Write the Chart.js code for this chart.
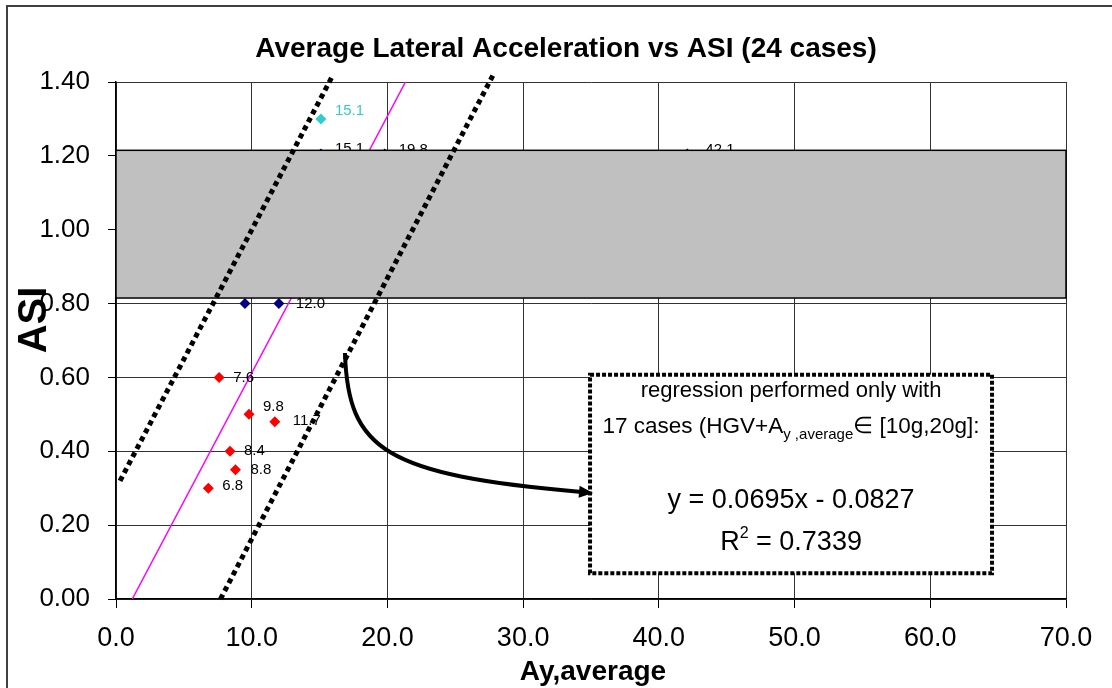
<!DOCTYPE html>
<html><head><meta charset="utf-8">
<script src="https://cdn.jsdelivr.net/npm/chart.js@4.4.0/dist/chart.umd.min.js"></script>
<style>html,body{margin:0;padding:0;background:#fff;}canvas{display:block;}</style>
</head><body>
<canvas id="c" width="1112" height="688"></canvas>
<script>
// ---------------- data ----------------
const redX = [7.6, 9.8, 11.7, 8.4, 8.8, 6.8];
const redY = [0.60, 0.50, 0.48, 0.40, 0.35, 0.30];
const redLabels = ['7.6', '9.8', '11.7', '8.4', '8.8', '6.8'];

const blueX = [9.5, 12.0, 15.1, 19.8, 42.1];
const blueY = [0.80, 0.80, 1.205, 1.205, 1.205];
const blueLabels = ['', '12.0', '15.1', '19.8', '42.1'];

const cyanX = [15.1];
const cyanY = [1.30];
const cyanLabels = ['15.1'];

// regression line y = 0.0695x - 0.0827 (end points)
const regX = [1.2, 21.33];
const regY = [0.0, 1.40];

// dotted band lines
const leftBandX = [0.3, 16.0];
const leftBandY = [0.32, 1.42];
const rightBandX = [7.7, 27.8];
const rightBandY = [0.0, 1.42];

// gray ASI zone
const zoneY = [0.815, 1.215];

// axis ticks
const xTickValues = [0, 10, 20, 30, 40, 50, 60, 70];
const yTickValues = [0, 0.2, 0.4, 0.6, 0.8, 1.0, 1.2, 1.4];

// texts
const chartTitle = 'Average Lateral Acceleration vs ASI (24 cases)';
const xTitle = 'Ay,average';
const yTitle = 'ASI';
const noteLine1 = 'regression performed only with';
const noteEquation = 'y = 0.0695x - 0.0827';
const noteR2 = ' = 0.7339';

// ---------------- annotation geometry (data units) ----------------
const noteBox = {x1: 34.93, y1: 0.607, x2: 64.55, y2: 0.070};
const arrowPts = [[16.87, 0.666], [17.10, 0.403], [19.82, 0.336], [35.15, 0.287]];
const labelNudge = {red: [[0,0],[0,-7],[4,-1],[0,0],[1,0],[0,-2]], blue: [[0,0],[3,0],[0,-5],[0,-4],[4,-4]], cyan: [[0,-8]]};

const FONT = '"Liberation Sans", Arial, Helvetica, sans-serif';
Chart.defaults.font.family = FONT;

const toPts = (xs, ys) => xs.map((x, i) => ({x: x, y: ys[i]}));

const deco = {
  id: 'deco',
  beforeDraw(chart) {
    const ctx = chart.ctx;
    ctx.save();
    ctx.fillStyle = '#fff';
    ctx.fillRect(0, 0, chart.width, chart.height);
    ctx.strokeStyle = '#404040';
    ctx.lineWidth = 2;
    ctx.strokeRect(7, 6, chart.width + 20, chart.height + 20);
    ctx.restore();
  },
  beforeDatasetsDraw(chart) { chart.$zoneDone = false; },
  beforeDatasetDraw(chart, args) {
    const ds = chart.data.datasets[args.index];
    if (ds.isBand && !chart.$zoneDone) {
      chart.$zoneDone = true;
      const {ctx, scales: {x, y}} = chart;
      const l = x.getPixelForValue(x.min), r = x.getPixelForValue(x.max);
      const t = y.getPixelForValue(zoneY[1]), b = y.getPixelForValue(zoneY[0]);
      ctx.save();
      ctx.fillStyle = '#c0c0c0';
      ctx.fillRect(l, t, r - l, b - t);
      ctx.strokeStyle = '#000';
      ctx.lineWidth = 1.5;
      ctx.strokeRect(l, t, r - l, b - t);
      ctx.restore();
    }
  },
  afterDatasetDraw(chart, args) {
    const ds = chart.data.datasets[args.index];
    if (!ds.ptLabels) return;
    const ctx = chart.ctx;
    const meta = chart.getDatasetMeta(args.index);
    ctx.save();
    ctx.font = '15px ' + FONT;
    ctx.fillStyle = ds.labelColor;
    ctx.textAlign = 'left';
    ctx.textBaseline = 'middle';
    meta.data.forEach((el, i) => {
      const txt = ds.ptLabels[i];
      if (!txt) return;
      const n = ds.nudge[i] || [0, 0];
      ctx.fillText(txt, el.x + 14 + n[0], el.y + n[1]);
    });
    ctx.restore();
  },
  afterDatasetsDraw(chart) {
    const {ctx, scales: {x, y}} = chart;
    // note box
    const bx1 = x.getPixelForValue(noteBox.x1), by1 = y.getPixelForValue(noteBox.y1);
    const bx2 = x.getPixelForValue(noteBox.x2), by2 = y.getPixelForValue(noteBox.y2);
    ctx.save();
    ctx.fillStyle = '#fff';
    ctx.fillRect(bx1, by1, bx2 - bx1, by2 - by1);
    ctx.strokeStyle = '#000';
    ctx.lineWidth = 4;
    ctx.setLineDash([4, 2]);
    ctx.strokeRect(bx1, by1, bx2 - bx1, by2 - by1);
    ctx.setLineDash([]);
    const cx = (bx1 + bx2) / 2;
    ctx.fillStyle = '#000';
    ctx.textBaseline = 'alphabetic';
    ctx.textAlign = 'center';
    ctx.font = '22px ' + FONT;
    ctx.fillText(noteLine1, cx, by1 + 22);
    // line 2 with subscript
    const segs = [
      {t: '17 cases (HGV+A', f: '22.5px ' + FONT, dy: 0},
      {t: 'y ,average', f: '15px ' + FONT, dy: 6},
      {t: '\u2208', f: '22.5px ' + FONT, dy: 0},
      {t: ' [10g,20g]:', f: '22.5px ' + FONT, dy: 0}
    ];
    let tot = 0;
    segs.forEach(s => { ctx.font = s.f; s.w = ctx.measureText(s.t).width; tot += s.w; });
    let sx = cx - tot / 2;
    ctx.textAlign = 'left';
    const l2 = by1 + 58;
    segs.forEach(s => { ctx.font = s.f; ctx.fillText(s.t, sx, l2 + s.dy); sx += s.w; });
    // equation
    ctx.textAlign = 'center';
    ctx.font = '27px ' + FONT;
    ctx.fillText(noteEquation, cx, by1 + 133);
    // R^2
    ctx.font = '27px ' + FONT;
    const wR = ctx.measureText('R').width, wRest = ctx.measureText(noteR2).width;
    ctx.font = '16px ' + FONT;
    const w2 = ctx.measureText('2').width;
    let rx = cx - (wR + w2 + wRest) / 2;
    const l4 = by1 + 175;
    ctx.textAlign = 'left';
    ctx.font = '27px ' + FONT;
    ctx.fillText('R', rx, l4); rx += wR;
    ctx.font = '16px ' + FONT;
    ctx.fillText('2', rx, l4 - 12); rx += w2;
    ctx.font = '27px ' + FONT;
    ctx.fillText(noteR2, rx, l4);
    // arrow
    const p = arrowPts.map(a => [x.getPixelForValue(a[0]), y.getPixelForValue(a[1])]);
    const ang = Math.atan2(p[3][1] - p[2][1], p[3][0] - p[2][0]);
    const hl = 14, hw = 6;
    const ex = p[3][0] - hl * Math.cos(ang) * 0.8, ey = p[3][1] - hl * Math.sin(ang) * 0.8;
    ctx.strokeStyle = '#000';
    ctx.lineWidth = 4;
    ctx.beginPath();
    ctx.moveTo(p[0][0], p[0][1]);
    ctx.bezierCurveTo(p[1][0], p[1][1], p[2][0], p[2][1], ex, ey);
    ctx.stroke();
    ctx.beginPath();
    ctx.moveTo(p[3][0], p[3][1]);
    ctx.lineTo(p[3][0] - hl * Math.cos(ang) + hw * Math.sin(ang), p[3][1] - hl * Math.sin(ang) - hw * Math.cos(ang));
    ctx.lineTo(p[3][0] - hl * Math.cos(ang) - hw * Math.sin(ang), p[3][1] - hl * Math.sin(ang) + hw * Math.cos(ang));
    ctx.closePath();
    ctx.fillStyle = '#000';
    ctx.fill();
    ctx.restore();
  },
  afterDraw(chart) {
    const ctx = chart.ctx;
    ctx.save();
    ctx.fillStyle = '#000';
    ctx.textAlign = 'center';
    ctx.textBaseline = 'alphabetic';
    ctx.font = 'bold 28px ' + FONT;
    ctx.fillText(chartTitle, 566, 57);
    ctx.font = 'bold 28px ' + FONT;
    ctx.fillText(xTitle, 593, 680);
    ctx.translate(46, 320);
    ctx.rotate(-Math.PI / 2);
    ctx.font = 'bold 40px ' + FONT;
    ctx.fillText(yTitle, 0, 0);
    ctx.restore();
  }
};

new Chart(document.getElementById('c'), {
  type: 'scatter',
  data: {
    datasets: [
      {data: toPts(leftBandX, leftBandY), showLine: true, isBand: true, borderColor: '#000', borderWidth: 5, borderDash: [5, 4], pointRadius: 0, clip: false, order: 2},
      {data: toPts(rightBandX, rightBandY), showLine: true, isBand: true, borderColor: '#000', borderWidth: 5, borderDash: [5, 4], pointRadius: 0, clip: false, order: 1},
      {data: toPts(redX, redY), ptLabels: redLabels, labelColor: '#000', nudge: labelNudge.red, pointStyle: 'rectRot', pointRadius: 5.5, backgroundColor: '#ff0000', borderColor: '#ff0000', borderWidth: 0, order: 5},
      {data: toPts(blueX, blueY), ptLabels: blueLabels, labelColor: '#000', nudge: labelNudge.blue, pointStyle: 'rectRot', pointRadius: 5.5, backgroundColor: '#000080', borderColor: '#000080', borderWidth: 0, order: 5},
      {data: toPts(cyanX, cyanY), ptLabels: cyanLabels, labelColor: '#33cccc', nudge: labelNudge.cyan, pointStyle: 'rectRot', pointRadius: 5.5, backgroundColor: '#33cccc', borderColor: '#33cccc', borderWidth: 0, order: 5},
      {data: toPts(regX, regY), showLine: true, borderColor: '#ff00ff', borderWidth: 1.5, pointRadius: 0, order: 8}
    ]
  },
  options: {
    responsive: false,
    animation: false,
    events: [],
    layout: {padding: {top: 82, right: 46, left: 0, bottom: 0}},
    plugins: {legend: {display: false}, tooltip: {enabled: false}, title: {display: false}},
    scales: {
      x: {
        type: 'linear', min: xTickValues[0], max: xTickValues[xTickValues.length - 1],
        afterFit: s => { s.height = 89; },
        afterBuildTicks: s => { s.ticks = xTickValues.map(v => ({value: v})); },
        ticks: {callback: v => Number(v).toFixed(1), color: '#000', font: {size: 27}, padding: 14, maxRotation: 0},
        grid: {color: '#333', lineWidth: 1, tickLength: 9, tickColor: '#000'},
        border: {color: '#000', width: 1.5}
      },
      y: {
        type: 'linear', min: yTickValues[0], max: yTickValues[yTickValues.length - 1],
        afterFit: s => { s.width = 116; },
        afterBuildTicks: s => { s.ticks = yTickValues.map(v => ({value: v})); },
        ticks: {callback: v => Number(v).toFixed(2), color: '#000', font: {size: 26}, padding: 18},
        grid: {color: '#333', lineWidth: 1, tickLength: 8, tickColor: '#000'},
        border: {color: '#000', width: 1.5}
      }
    }
  },
  plugins: [deco]
});
</script>
</body></html>
